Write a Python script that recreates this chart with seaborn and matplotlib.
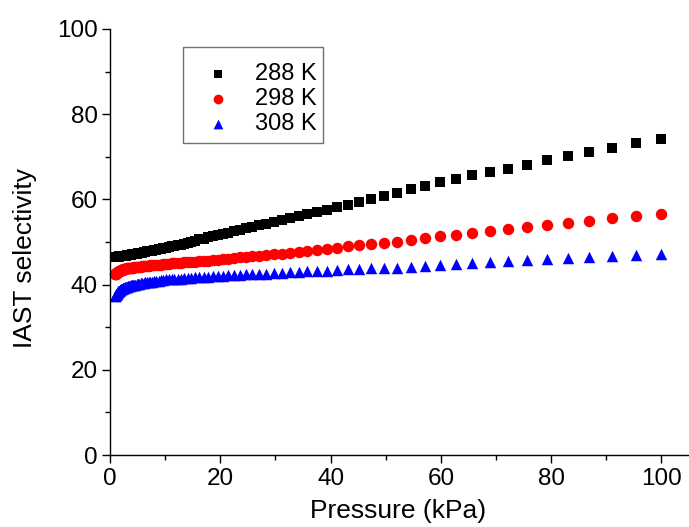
import matplotlib
matplotlib.use("Agg")
import matplotlib.pyplot as plt
import seaborn as sns
import pandas as pd
from matplotlib.patches import Rectangle
from matplotlib.ticker import MultipleLocator

# Pressure grid (kPa)
pressure = [
    0.94, 0.98, 1.03, 1.08, 1.13, 1.18, 1.24, 1.30, 1.36, 1.43,
    1.50, 1.57, 1.64, 1.72, 1.80, 1.89, 1.98, 2.07, 2.17, 2.28,
    2.39, 2.50, 2.62, 2.75, 2.88, 3.01, 3.16, 3.31, 3.47, 3.63,
    3.81, 3.99, 4.18, 4.38, 4.59, 4.81, 5.04, 5.28, 5.53, 5.80,
    6.07, 6.37, 6.67, 6.99, 7.32, 7.67, 8.04, 8.42, 8.83, 9.25,
    9.69, 10.15, 10.64, 11.15, 11.68, 12.24, 12.82, 13.44, 14.08, 14.75,
    15.46, 16.20, 16.97, 17.78, 18.63, 19.52, 20.45, 21.43, 22.45, 23.53,
    24.65, 25.83, 27.06, 28.36, 29.71, 31.13, 32.62, 34.18, 35.81, 37.52,
    39.31, 41.20, 43.16, 45.23, 47.39, 49.65, 52.02, 54.51, 57.11, 59.84,
    62.70, 65.70, 68.84, 72.13, 75.57, 79.18, 82.97, 86.93, 91.09, 95.44,
    100.0,
]

# IAST selectivity at 288 K
sel_288 = [
    46.4, 46.4, 46.4, 46.4, 46.4, 46.4, 46.5, 46.5, 46.5, 46.5,
    46.5, 46.5, 46.6, 46.6, 46.6, 46.6, 46.6, 46.7, 46.7, 46.7,
    46.7, 46.7, 46.8, 46.8, 46.8, 46.9, 46.9, 46.9, 47.0, 47.0,
    47.0, 47.1, 47.1, 47.2, 47.2, 47.3, 47.4, 47.4, 47.5, 47.5,
    47.6, 47.7, 47.8, 47.8, 47.9, 48.0, 48.1, 48.2, 48.3, 48.4,
    48.6, 48.7, 48.8, 49.0, 49.1, 49.3, 49.4, 49.6, 49.8, 50.0,
    50.3, 50.6, 50.8, 51.1, 51.4, 51.6, 51.9, 52.2, 52.5, 52.9,
    53.2, 53.5, 53.9, 54.3, 54.7, 55.1, 55.6, 56.1, 56.5, 57.1,
    57.6, 58.2, 58.7, 59.4, 60.1, 60.8, 61.6, 62.4, 63.2, 64.0,
    64.8, 65.7, 66.5, 67.2, 68.1, 69.2, 70.1, 71.1, 72.1, 73.2,
    74.2,
]

# IAST selectivity at 298 K
sel_298 = [
    42.4, 42.5, 42.5, 42.6, 42.7, 42.7, 42.8, 42.9, 42.9, 43.0,
    43.0, 43.1, 43.1, 43.2, 43.3, 43.3, 43.4, 43.4, 43.5, 43.5,
    43.6, 43.6, 43.7, 43.7, 43.7, 43.8, 43.8, 43.9, 43.9, 43.9,
    44.0, 44.0, 44.0, 44.1, 44.1, 44.1, 44.2, 44.2, 44.2, 44.3,
    44.3, 44.3, 44.4, 44.4, 44.5, 44.5, 44.6, 44.6, 44.7, 44.7,
    44.8, 44.9, 44.9, 45.0, 45.0, 45.1, 45.1, 45.2, 45.2, 45.3,
    45.4, 45.5, 45.6, 45.6, 45.7, 45.8, 46.0, 46.1, 46.2, 46.4,
    46.5, 46.7, 46.8, 47.0, 47.2, 47.3, 47.5, 47.7, 48.0, 48.2,
    48.4, 48.7, 49.0, 49.2, 49.5, 49.8, 50.1, 50.5, 50.9, 51.3,
    51.7, 52.0, 52.5, 53.0, 53.5, 54.0, 54.5, 54.9, 55.6, 56.1,
    56.6,
]

# IAST selectivity at 308 K
sel_308 = [
    37.3, 37.4, 37.5, 37.6, 37.7, 37.8, 38.0, 38.1, 38.2, 38.3,
    38.4, 38.5, 38.6, 38.7, 38.7, 38.8, 38.9, 39.0, 39.0, 39.1,
    39.2, 39.2, 39.3, 39.4, 39.4, 39.5, 39.5, 39.6, 39.7, 39.7,
    39.8, 39.8, 39.9, 40.0, 40.0, 40.1, 40.2, 40.2, 40.3, 40.3,
    40.4, 40.5, 40.5, 40.6, 40.6, 40.7, 40.8, 40.9, 40.9, 41.0,
    41.1, 41.2, 41.2, 41.3, 41.3, 41.4, 41.4, 41.5, 41.6, 41.6,
    41.7, 41.8, 41.8, 41.9, 42.0, 42.0, 42.1, 42.2, 42.2, 42.3,
    42.4, 42.4, 42.5, 42.6, 42.7, 42.8, 42.9, 43.0, 43.1, 43.2,
    43.3, 43.4, 43.6, 43.7, 43.8, 43.9, 44.0, 44.2, 44.4, 44.7,
    44.9, 45.1, 45.3, 45.5, 45.8, 45.9, 46.2, 46.5, 46.8, 46.9,
    47.2,
]

labels = ["288 K", "298 K", "308 K"]
colors = ["#000000", "#ff0000", "#0000ff"]
markers = ["s", "o", "^"]
sizes = [48, 68, 68]

sns.set_style("ticks")
plt.rcParams["font.family"] = ["Liberation Sans", "DejaVu Sans"]
plt.rcParams["text.color"] = "black"
plt.rcParams["axes.labelcolor"] = "black"

fig = plt.figure(figsize=(6.89, 5.27), dpi=100)
ax = fig.add_axes([0.1597, 0.1366, 0.8403, 0.8084])

for sel, lab, col, mk, sz in zip([sel_288, sel_298, sel_308], labels, colors, markers, sizes):
    df = pd.DataFrame({"Pressure (kPa)": pressure, "IAST selectivity": sel})
    sns.scatterplot(data=df, x="Pressure (kPa)", y="IAST selectivity", ax=ax,
                    color=col, marker=mk, s=sz, linewidth=0, label=lab, clip_on=False)

ax.set_xlim(0, 105)
ax.set_ylim(0, 100)
ax.xaxis.set_major_locator(MultipleLocator(20))
ax.xaxis.set_minor_locator(MultipleLocator(10))
ax.yaxis.set_major_locator(MultipleLocator(20))
ax.yaxis.set_minor_locator(MultipleLocator(10))
ax.set_xticks([0, 20, 40, 60, 80, 100])

for s in ["top", "right"]:
    ax.spines[s].set_visible(False)
for s in ["left", "bottom"]:
    ax.spines[s].set_linewidth(1.0)
    ax.spines[s].set_color("black")

ax.tick_params(which="major", direction="out", length=6, width=1, labelsize=17.5,
               colors="black", pad=3)
ax.tick_params(which="minor", direction="out", length=3.5, width=1, colors="black")

ax.set_xlabel("Pressure (kPa)", fontsize=19, color="black")
ax.set_ylabel("IAST selectivity", fontsize=19, color="black")
ax.xaxis.set_label_coords(0.497, -0.104)
ax.yaxis.set_label_coords(-0.126, 0.462)

# Legend entries without their own frame; a separate box is drawn around them
leg = ax.legend(loc="upper left", bbox_to_anchor=(0.1458, 0.919), borderaxespad=0,
                frameon=False, fontsize=17, markerscale=0.85, handletextpad=0.57,
                labelspacing=0.115, borderpad=0.0, handlelength=2.0)
for t in leg.get_texts():
    t.set_color("black")

ax.add_patch(Rectangle((0.126, 0.732), 0.242, 0.226, transform=ax.transAxes,
                       facecolor="white", edgecolor="#707070", linewidth=1.0,
                       zorder=4, clip_on=False))
leg.set_zorder(5)

fig.savefig("out.png", dpi=100)
